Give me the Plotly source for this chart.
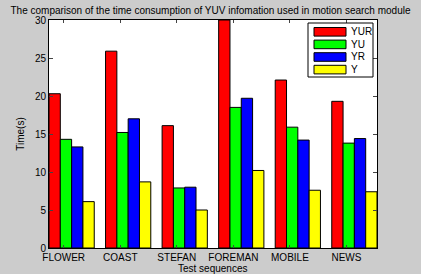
import plotly.graph_objects as go

categories = ["FLOWER", "COAST", "STEFAN", "FOREMAN", "MOBILE", "NEWS"]
series_names = ["YUR", "YU", "YR", "Y"]
yur = [20.3, 25.9, 16.1, 30.0, 22.1, 19.3]
yu = [14.3, 15.2, 7.9, 18.5, 15.9, 13.8]
yr = [13.3, 17.0, 8.0, 19.7, 14.2, 14.4]
y_only = [6.1, 8.7, 5.0, 10.2, 7.6, 7.4]
colors = ["#ff0000", "#00ff00", "#0000ff", "#ffff00"]
y_ticks = [0, 5, 10, 15, 20, 25, 30]

W, H = 421, 274
ML, MR, MT, MB = 49, 44, 20, 26
PW, PH = W - ML - MR, H - MT - MB

def px(xp):
    return (xp - ML) / PW

def py(yp):
    return (H - MB - yp) / PH

x = list(range(len(categories)))
fig = go.Figure()
for name, vals, col in zip(series_names, [yur, yu, yr, y_only], colors):
    fig.add_trace(go.Bar(x=x, y=vals, name=name, showlegend=False,
                         marker=dict(color=col, line=dict(color="black", width=1))))

# custom legend box (MATLAB style)
shapes = [dict(type="rect", xref="paper", yref="paper", x0=px(308), x1=px(373), y0=py(77), y1=py(23),
               line=dict(color="black", width=1), fillcolor="white", layer="above")]
annotations = []
row_h = 12.6
for i, (name, col) in enumerate(zip(series_names, colors)):
    cy = 31.8 + i * row_h
    shapes.append(dict(type="rect", xref="paper", yref="paper", x0=px(314), x1=px(346),
                       y0=py(cy + 4.3), y1=py(cy - 4.3), line=dict(color="black", width=1),
                       fillcolor=col, layer="above"))
    annotations.append(dict(text=name, xref="paper", yref="paper", x=px(348.5), y=py(cy),
                            xanchor="left", yanchor="middle", showarrow=False,
                            font=dict(size=10)))
annotations.append(dict(text="Test sequences", xref="paper", yref="paper", x=0.5, y=py(268),
                        xanchor="center", yanchor="middle", showarrow=False, font=dict(size=10)))

fig.update_layout(
    width=W, height=H,
    margin=dict(l=ML, r=MR, t=MT, b=MB),
    paper_bgcolor="#cccccc", plot_bgcolor="white",
    barmode="group", bargap=0.2, bargroupgap=0,
    font=dict(family="Liberation Sans, Arial", size=10, color="black"),
    title=dict(text="The comparison of the time consumption of YUV infomation used in motion search module",
               x=0.5, xanchor="center", y=0.962, yanchor="middle", font=dict(size=10)),
    shapes=shapes, annotations=annotations,
    showlegend=False,
)
fig.update_xaxes(range=[-0.4, 5.4], tickvals=[i - 0.14 for i in x], ticktext=categories,
                 ticks="inside", ticklen=3, showline=True, linecolor="black", linewidth=1,
                 mirror="ticks", showgrid=False, zeroline=False, ticklabelstandoff=0,
                 automargin=False)
fig.update_yaxes(range=[0, 30], tickvals=y_ticks, ticks="inside", ticklen=4,
                 showline=True, linecolor="black", linewidth=1, mirror="ticks",
                 showgrid=False, zeroline=False, automargin=False,
                 title=dict(text="Time(s)", standoff=8, font=dict(size=10)))
fig.write_html("out.html")
